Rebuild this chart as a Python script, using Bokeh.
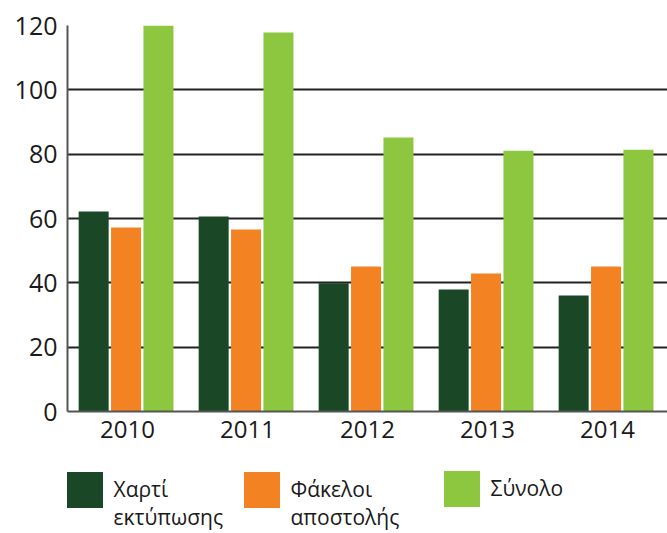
from bokeh.plotting import figure
from bokeh.models import (ColumnDataSource, FactorRange, Range1d, Legend,
                          LegendItem, FixedTicker)
from bokeh.transform import dodge
from bokeh.layouts import column
from bokeh.embed import file_html
from bokeh.resources import INLINE

# ---- data ----
years = ["2010", "2011", "2012", "2013", "2014"]
paper = [62.2, 60.6, 39.9, 37.9, 36.1]          # Χαρτί εκτύπωσης
envelopes = [57.2, 56.6, 45.1, 42.9, 45.1]      # Φάκελοι αποστολής
total = [120.0, 117.8, 85.2, 81.1, 81.4]        # Σύνολο
series_labels = ["Χαρτί\nεκτύπωσης", "Φάκελοι\nαποστολής", "Σύνολο"]
y_ticks = [0, 20, 40, 60, 80, 100, 120]

colors = ["#1A4726", "#F28222", "#8DC63F"]
FONT = "Open Sans"

src = ColumnDataSource(dict(year=years, paper=paper, env=envelopes, total=total))

p = figure(x_range=FactorRange(*years), y_range=Range1d(0, 120),
           width=667, height=458, output_backend="svg", toolbar_location=None,
           min_border_left=67, min_border_right=0, min_border_top=25,
           min_border_bottom=47)

bw = 0.25
off = 0.27
shift = -0.012
r1 = p.vbar(x=dodge("year", shift - off, range=p.x_range), top="paper", width=bw,
            source=src, color=colors[0], line_color=None)
r2 = p.vbar(x=dodge("year", shift, range=p.x_range), top="env", width=bw,
            source=src, color=colors[1], line_color=None)
r3 = p.vbar(x=dodge("year", shift + off, range=p.x_range), top="total", width=bw,
            source=src, color=colors[2], line_color=None)

p.outline_line_color = None
p.xgrid.grid_line_color = None
p.ygrid.grid_line_color = "#222222"
p.ygrid.grid_line_width = 2
p.ygrid.ticker = FixedTicker(ticks=y_ticks)
p.yaxis.ticker = FixedTicker(ticks=y_ticks)

for ax in (p.xaxis, p.yaxis):
    ax.major_tick_line_color = None
    ax.minor_tick_line_color = None
    ax.major_tick_out = 0
    ax.major_tick_in = 0
    ax.minor_tick_out = 0
    ax.axis_line_color = "#555555"
    ax.axis_line_width = 2
    ax.major_label_text_font = FONT
    ax.major_label_text_color = "#1a1a1a"
p.yaxis.major_label_text_font_size = "25px"
p.xaxis.major_label_text_font_size = "24px"
p.yaxis.major_label_standoff = 10
p.xaxis.major_label_standoff = 9

# ---- legend figure (its frame is aligned with the chart frame) ----
lg = figure(x_range=Range1d(0, 1), y_range=Range1d(0, 1), width=667, height=75,
            output_backend="svg", toolbar_location=None,
            min_border_left=67, min_border_right=0, min_border_top=0,
            min_border_bottom=0)
lg.axis.visible = False
lg.grid.visible = False
lg.outline_line_color = None

dummies = []
for c in colors:
    dummies.append(lg.vbar(x=[5], top=[5], width=0.1, color=c, line_color=None))

# legend swatches are drawn inset by 10%, so a 45px glyph box gives a 36px square
xpos = [-5.5, 171.5, 371.5]
ypos = [2, 2, 22.5]
for lab, d, xp, yp in zip(series_labels, dummies, xpos, ypos):
    text = ("\n" + lab) if "\n" in lab else lab
    leg = Legend(items=[LegendItem(label=text, renderers=[d])],
                 location=(xp, yp), orientation="horizontal",
                 glyph_width=45, glyph_height=45, label_standoff=7,
                 padding=0, margin=0, border_line_color=None,
                 background_fill_alpha=0,
                 label_text_font=FONT, label_text_font_size="21px",
                 label_text_line_height=1.0,
                 label_text_color="#1a1a1a")
    lg.add_layout(leg)

layout = column(p, lg)
open("out.html", "w").write(file_html(layout, INLINE))
